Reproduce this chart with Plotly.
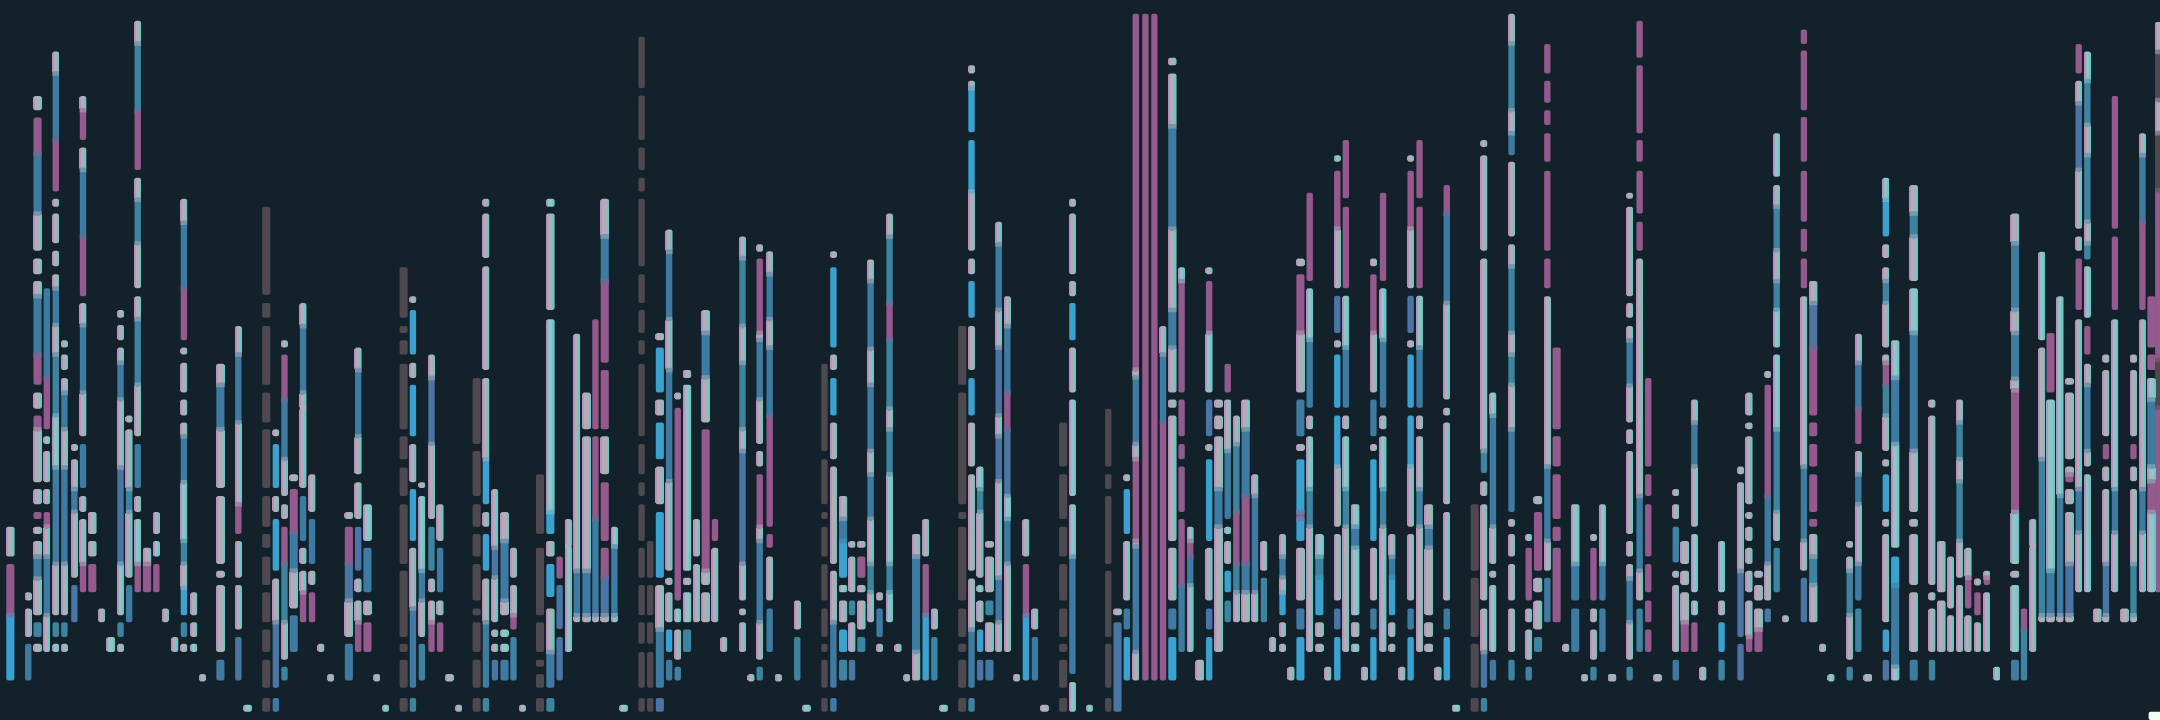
import re
import plotly.graph_objects as go

BACKGROUND = "#13222a"
COLORS = {
    "L": "#b0aeb6", "A": "#8cc6c6", "B": "#3e7ba2", "C": "#39a2d0",
    "P": "#4a75a4", "T": "#3d84a0", "M": "#945a8d", "D": "#4d494f", "W": "#f4fbfb",
}
EDGE_RIGHT = "#6cc6c4"
EDGE_LEFT = "#b990bf"
X_SCALE = 1568 / 540
NARROW = 18.5
WIDE = 23.5
PANEL_STARTS = [0, 540, 1080, 1620]

PANEL_1 = [
    (30, WIDE, "1147-1212L 1228-1340M 1340-1482C"),
    (82, NARROW, "1290-1308L 1325-1387L 1402-1482B"),
    (109, WIDE, "209-240L 256-335M 335-465B 465-546L 563-597L 612-645L 645-772B 772-838M 855-890L 905-935M 935-1050L 1065-1098L 1115-1130M 1147-1163L 1178-1212L 1212-1260B 1260-1340L 1355-1387T 1402-1420L"),
    (136, NARROW, "628-823B 823-935M 950-967A 982-1050L 1065-1098L 1115-1147M 1147-1212L 1212-1340B 1340-1420L"),
    (162, NARROW, "112-160L 160-305B 305-417M 433-450L 465-530L 546-580L 597-628L 628-708B 708-772L 772-905T 905-1018A 1018-1228B 1228-1340L 1355-1387T 1402-1420A"),
    (187, NARROW, "741-757L 772-806L 823-855L 855-935B 935-1018L 1018-1228B 1228-1340L 1355-1387T 1402-1420L"),
    (216, NARROW, "967-982L 1000-1065L 1065-1115B 1115-1258L 1274-1355P"),
    (241, NARROW, "209-240L 240-305M 321-370L 370-515B 515-645M 660-708L 708-855B 855-950L 967-1063B 1080-1115L 1130-1228L 1228-1290M"),
    (268, WIDE, "1115-1163L 1178-1212L 1228-1290M"),
    (295, NARROW, "1325-1355L"),
    (322, WIDE, "1387-1420A"),
    (350, NARROW, "675-692L 708-741L 757-790L 790-870B 870-1018L 1018-1228P 1228-1340A 1355-1387T 1402-1420L"),
    (375, NARROW, "905-920L 935-1065L 1065-1115T 1115-1258L 1274-1355B"),
    (400, NARROW, "45-95L 95-240T 240-370M 387-435L 435-530T 530-628L 645-695L 695-838T 838-950L 967-1063B 1080-1115L 1130-1228A 1228-1290M"),
    (427, WIDE, "1193-1228L 1228-1290M"),
    (454, NARROW, "1115-1163L 1178-1212A 1228-1290M"),
    (480, NARROW, "1325-1355L"),
    (508, NARROW, "1387-1420L"),
    (534, NARROW, "433-485L 485-628B 628-741M 757-772L 790-855L 870-905L 920-950L 950-1050B 1050-1178A 1178-1228T 1228-1280L 1280-1340C 1355-1387T 1402-1420L"),
    (563, NARROW, "1290-1340L 1355-1387L 1402-1420A"),
    (588, NARROW, "1468-1484L"),
    (640, WIDE, "792-838L 838-935B 935-1063L 1080-1228L 1243-1258L 1274-1420L 1437-1482B"),
    (692, NARROW, "710-772L 772-920B 920-1098L 1098-1163M 1178-1258L 1274-1371L 1387-1482P"),
    (719, WIDE, "1535-1550A"),
    (773, WIDE, "450-642D 660-692D 710-838D 855-920D 935-1063D 1080-1147D 1163-1193D 1212-1274D 1290-1355D 1371-1420D 1437-1498D 1520-1550D"),
    (801, NARROW, "935-950L 967-1063C 1080-1115L 1130-1243C 1260-1355L 1355-1498P 1520-1550B"),
    (826, NARROW, "741-757L 772-870M 870-1000B 1000-1080L 1098-1130L 1147-1228M 1228-1355T 1355-1437L 1452-1482T"),
    (853, WIDE, "1033-1048L 1065-1160M 1160-1243B 1243-1325L 1340-1420B"),
    (880, NARROW, "660-710L 710-855B 855-890L 890-1063L 1080-1178B 1193-1228L 1243-1290L 1290-1355M"),
    (906, NARROW, "1033-1115L 1130-1228B 1243-1274L 1290-1355M"),
    (932, NARROW, "1402-1420L"),
    (960, NARROW, "1468-1484L"),
    (1013, WIDE, "1115-1130L 1147-1228M 1228-1308P 1308-1387L 1402-1482B"),
    (1040, NARROW, "757-806L 806-950B 950-1033L 1050-1130L 1147-1243P 1260-1290L 1308-1355L 1355-1420M"),
    (1067, WIDE, "1098-1178A 1193-1290B 1308-1340L 1355-1420M"),
    (1094, NARROW, "1468-1484L"),
    (1120, NARROW, "1535-1550A"),
    (1172, WIDE, "582-692D 710-725D 741-772D 792-935D 950-1000D 1018-1080D 1098-1228D 1243-1387D 1402-1420D 1437-1498D 1520-1550D"),
    (1199, NARROW, "645-660L 675-772C 790-823L 838-950C 967-1050L 1065-1178C 1193-1325L 1325-1498B 1520-1550T"),
    (1225, NARROW, "1050-1063L 1080-1243A 1243-1308B 1308-1387L 1402-1482T"),
    (1253, NARROW, "772-823L 823-967P 967-1130L 1147-1243T 1260-1290L 1308-1355L 1355-1420M"),
    (1278, NARROW, "1098-1178L 1193-1290B 1308-1340L 1355-1420M"),
    (1305, WIDE, "1468-1484L"),
    (1332, NARROW, "1535-1550L"),
    (1384, WIDE, "823-967D 982-1080D 1098-1147D 1163-1212D 1228-1308D 1325-1340D 1355-1420D 1437-1498D 1520-1550D"),
    (1411, NARROW, "433-450L 465-562L 580-806L 823-1000L 1000-1098C 1115-1147L 1163-1243C 1260-1355L 1355-1498B 1520-1550T"),
    (1437, NARROW, "1065-1193L 1193-1258P 1258-1355L 1371-1387L 1402-1420L 1437-1482P"),
    (1465, WIDE, "1115-1178L 1178-1308B 1308-1340L 1371-1387A 1402-1420A 1437-1482B"),
    (1491, NARROW, "1193-1258L 1274-1340L 1340-1371M 1387-1482T"),
    (1517, NARROW, "1535-1550L"),
]

PANEL_2 = [
    (0, WIDE, "1033-1163D 1193-1340D 1355-1420D 1437-1452D 1468-1498D 1520-1550D"),
    (30, WIDE, "433-450A 465-675L 695-1115A 1115-1163C 1178-1212L 1228-1300C 1325-1420L 1420-1498B 1520-1550T"),
    (57, NARROW, "1212-1260M 1274-1370P 1387-1482P"),
    (82, NARROW, "1130-1190L 1190-1420A"),
    (107, NARROW, "727-1243L 1243-1340B 1340-1355L"),
    (135, WIDE, "855-935L 950-1243L 1243-1340B 1340-1355L"),
    (161, NARROW, "695-935M 950-1130M 1130-1340B 1340-1355L"),
    (188, WIDE, "433-515L 515-612B 612-790M 806-935M 950-1033L 1050-1178M 1193-1258M 1258-1340P 1340-1355L"),
    (216, NARROW, "1147-1190A 1190-1340B 1340-1355A"),
    (243, WIDE, "1535-1550A"),
    (295, NARROW, "80-192D 208-305D 321-370D 387-417D 433-580D 597-660D 675-725D 741-772D 792-950D 967-1033D 1050-1080D 1098-1178D 1193-1258D 1274-1340D 1355-1402D 1420-1498D 1520-1550D"),
    (320, NARROW, "1178-1258D 1274-1340D 1355-1402D 1420-1498D 1520-1550D"),
    (348, WIDE, "725-741L 757-855C 870-905L 920-1000C 1016-1098L 1115-1258C 1274-1371L 1371-1498B 1520-1550P"),
    (375, NARROW, "500-548L 548-695B 695-806L 806-1048B 1048-1243L 1258-1274L 1290-1355L 1371-1420C 1437-1482B"),
    (400, NARROW, "855-870L 888-1308M 1325-1355A 1371-1437L 1452-1482T"),
    (427, WIDE, "806-823L 838-1243A 1258-1274L 1290-1355A 1371-1420T"),
    (454, NARROW, "1130-1212L 1228-1355L"),
    (481, WIDE, "675-725L 725-822B 822-920L 935-1243M 1243-1274L 1290-1355L"),
    (508, NARROW, "1130-1178M 1193-1355L"),
    (534, NARROW, "1387-1420L"),
    (588, NARROW, "515-562L 562-710T 710-790L 790-935T 935-982L 982-1228P 1228-1308L 1325-1340L 1355-1420L"),
    (613, NARROW, "1468-1484L"),
    (638, NARROW, "532-548L 563-725M 725-740L 740-870B 870-967L 982-1016L 1033-1147M 1147-1178L 1178-1355B 1355-1437L 1452-1482T"),
    (667, NARROW, "547-597L 597-695B 695-757L 757-905B 905-1147M 1163-1193M 1212-1308L 1325-1420B"),
    (692, NARROW, "1468-1484L"),
    (747, NARROW, "1308-1371L 1387-1482T"),
    (774, WIDE, "1535-1550A"),
    (826, NARROW, "792-982D 1000-1098D 1115-1130D 1147-1212D 1228-1308D 1325-1387D 1402-1420D 1437-1498D 1520-1550D"),
    (852, NARROW, "547-562L 582-757C 772-806L 823-905C 920-1000L 1016-1228L 1243-1355L 1355-1498B 1520-1550B"),
    (880, WIDE, "1080-1130L 1130-1178B 1178-1258C 1274-1290A 1308-1355L 1371-1420C 1437-1482T"),
    (906, NARROW, "1178-1193L 1212-1290L 1308-1340T 1355-1420L 1437-1482P"),
    (933, WIDE, "1178-1193L 1212-1258M 1274-1290L 1308-1371L 1387-1420T"),
    (960, NARROW, "565-612L 612-760B 760-838L 838-982B 982-1033L 1033-1130B 1130-1228L 1228-1290T 1290-1355L"),
    (986, NARROW, "1290-1308L 1325-1387B 1402-1420L"),
    (1015, NARROW, "465-515L 515-660T 660-740M 740-890T 890-935L 935-1033T 1033-1228A 1228-1290T 1290-1355A"),
    (1040, NARROW, "1402-1420L"),
    (1065, NARROW, "1468-1484L"),
    (1092, WIDE, "1163-1212L 1212-1420B 1420-1482L"),
    (1120, NARROW, "1130-1212L 1228-1340M 1340-1482C"),
    (1145, NARROW, "1325-1371L 1387-1482T"),
    (1172, WIDE, "1535-1550A"),
    (1226, WIDE, "710-838D 855-1098D 1115-1130D 1147-1308D 1325-1387D 1402-1420D 1437-1498D 1520-1550D"),
    (1253, NARROW, "142-160L 176-192L 192-288C 305-417C 417-546L 563-597L 612-692C 710-806L 823-905C 920-1016L 1033-1243L 1260-1371L 1371-1498B 1520-1550T"),
    (1278, NARROW, "1016-1065A 1065-1115T 1115-1258L 1274-1290A 1308-1355L 1371-1420C 1437-1482P"),
    (1305, WIDE, "1178-1193L 1212-1290L 1308-1340T 1355-1420L 1437-1482B"),
    (1332, NARROW, "483-532L 532-675B 675-757L 757-905P 905-950L 950-1048P 1048-1258L 1258-1355B 1355-1420L"),
    (1357, NARROW, "645-710L 710-855B 855-935M 935-1080P 1080-1130A 1130-1228B 1228-1420L"),
    (1384, NARROW, "1468-1484L"),
    (1411, NARROW, "1130-1212L 1228-1340M 1340-1482C"),
    (1437, NARROW, "1325-1371L 1387-1482B"),
    (1465, WIDE, "1535-1550L"),
    (1519, WIDE, "920-1016D 1033-1130D 1147-1212D 1228-1308D 1325-1387D 1402-1420D 1437-1498D 1520-1550D"),
    (1546, NARROW, "433-450L 465-597L 612-645L 660-741C 757-855L 870-1080A 1098-1212A 1212-1468B 1485-1550A"),
]

PANEL_3 = [
    (28, NARROW, "1535-1550A"),
    (82, NARROW, "890-1016D 1033-1065D 1080-1228D 1243-1387D 1402-1498D 1520-1550D"),
    (109, WIDE, "1325-1340L 1355-1550P"),
    (136, NARROW, "1033-1048L 1065-1163C 1178-1308L 1325-1371B 1387-1482C"),
    (162, NARROW, "30-805M 805-822L 822-967B 967-1000L 1000-1178M 1178-1190L 1190-1420B 1420-1482L"),
    (190, NARROW, "30-1482M"),
    (216, NARROW, "30-1482M"),
    (241, NARROW, "710-772L 772-920B 920-1482M"),
    (268, WIDE, "126-142L 160-275L 275-498B 498-675L 675-757B 757-855L 870-888L 905-1178L 1193-1308L 1325-1371B 1387-1482C"),
    (295, NARROW, "582-612A 612-855M 870-950M 967-1000M 1016-1115M 1130-1275M 1275-1420B"),
    (320, NARROW, "1147-1178A 1178-1212M 1212-1275B 1275-1420A"),
    (348, WIDE, "1437-1482L"),
    (375, NARROW, "582-597L 612-725M 725-855A 870-950P 967-982L 1000-1178C 1193-1308L 1325-1371P 1387-1482C"),
    (402, WIDE, "870-888L 905-935L 950-1065L 1065-1147B 1147-1420L"),
    (429, NARROW, "792-855M 870-982L 982-1130B 1147-1163A 1178-1228L 1243-1290C 1308-1355T"),
    (454, NARROW, "905-967L 967-1115T 1115-1228M 1228-1290T 1290-1355L"),
    (481, WIDE, "870-935L 935-1080B 1080-1228M 1228-1290B 1290-1355L"),
    (508, NARROW, "1033-1080L 1080-1290B 1290-1355L"),
    (534, NARROW, "1178-1243L 1258-1355T"),
    (559, NARROW, "1387-1420L"),
    (588, NARROW, "1163-1212L 1212-1258B 1258-1290L 1290-1340C 1355-1387L 1402-1420L"),
    (613, NARROW, "1452-1482L"),
    (640, WIDE, "563-580L 597-725M 725-855L 870-950B 967-982L 1000-1115C 1115-1130M 1130-1178C 1193-1308L 1325-1371B 1387-1482C"),
    (667, NARROW, "420-612M 628-740A 740-888B 905-935L 950-1065A 1065-1147T 1147-1420L"),
    (695, WIDE, "1163-1212A 1212-1258T 1258-1340C 1355-1387L 1402-1420L"),
    (720, NARROW, "1452-1482L"),
    (747, NARROW, "338-352A 372-498M 498-628L 644-725P 741-757L 772-888C 905-1016C 1016-1147L 1163-1308L 1325-1371P 1387-1482C"),
    (772, NARROW, "305-432M 450-628M 644-757A 757-888B 905-935L 950-1065A 1065-1147T 1147-1420L"),
    (799, WIDE, "1098-1147A 1147-1193B 1193-1340A 1355-1387L 1402-1420A"),
    (826, NARROW, "1452-1482L"),
    (852, NARROW, "563-580L 597-725M 725-855L 870-950B 967-982L 1000-1178C 1193-1308L 1325-1371B 1387-1482C"),
    (880, NARROW, "420-612M 628-740A 740-888B 905-935L 950-1065A 1065-1147T 1147-1420L"),
    (906, NARROW, "1163-1212L 1212-1258B 1258-1340C 1355-1387L 1402-1420L"),
    (935, NARROW, "1452-1482L"),
    (960, NARROW, "338-352L 372-498M 498-628L 644-725P 741-757L 772-888C 905-1016C 1016-1147L 1163-1308L 1325-1371B 1387-1482C"),
    (986, NARROW, "305-432M 450-628M 644-757A 757-888B 905-935L 950-1065L 1065-1147T 1147-1420L"),
    (1013, WIDE, "1098-1147L 1147-1193B 1193-1340L 1355-1387L 1402-1420L"),
    (1040, NARROW, "1452-1482L"),
    (1065, NARROW, "403-465M 465-660B 660-870L 888-905L 920-1098L 1115-1308L 1325-1371B 1387-1482C"),
    (1092, WIDE, "1535-1550A"),
    (1146, WIDE, "1098-1243D 1258-1387D 1402-1498D 1520-1550D"),
    (1173, NARROW, "305-320L 338-546L 563-982L 982-1030T 1048-1080L 1098-1308L 1325-1420L 1420-1498P 1520-1550T"),
    (1199, NARROW, "855-905A 905-1147B 1147-1228L 1243-1258L 1274-1420A 1437-1482B"),
    (1253, NARROW, "30-95L 95-240T 240-290L 290-338B 352-515L 532-580L 580-725T 725-772L 772-838T 838-935L 935-1115B 1130-1147L 1163-1212L 1228-1308L 1325-1420L 1437-1482T"),
    (1303, NARROW, "1163-1178A 1193-1308M 1325-1355L 1371-1437L 1452-1482T"),
    (1330, WIDE, "1080-1098L 1115-1243M 1258-1290L 1308-1371L 1387-1420T"),
    (1357, NARROW, "96-160M 176-224M 240-272M 290-352M 372-546M 563-628M 645-1016L 1016-1178B 1178-1243L 1258-1355B"),
    (1384, WIDE, "757-935M 950-1016M 1033-1130M 1147-1178M 1193-1355M"),
    (1411, NARROW, "1402-1420L"),
    (1438, WIDE, "1098-1228A 1228-1308B 1325-1420B"),
    (1465, NARROW, "1468-1484L"),
    (1491, NARROW, "1163-1178L 1193-1308M 1325-1355L 1371-1437L 1452-1482T"),
    (1517, NARROW, "1098-1228A 1228-1308B 1325-1420B"),
    (1545, WIDE, "1468-1484L"),
]

PANEL_4 = [
    (28, NARROW, "420-433L 450-645L 660-692L 710-741L 741-840B 840-920L 935-967L 982-1163L 1178-1212L 1228-1260L 1260-1355B 1355-1437L 1452-1482T"),
    (57, NARROW, "45-126M 142-290M 305-352M 372-465M 483-546M 563-1080L 1080-1243B 1243-1308L 1325-1420T"),
    (82, NARROW, "823-1016M 1033-1080M 1098-1212M 1228-1290M 1308-1355M 1371-1420M"),
    (109, WIDE, "1468-1484L"),
    (162, NARROW, "1065-1080L 1098-1130L 1147-1225T 1243-1258L 1274-1420L 1437-1482B"),
    (188, WIDE, "1178-1228L 1243-1274L 1290-1355L 1355-1420M"),
    (216, NARROW, "870-920L 920-1016B 1016-1147L 1163-1290A 1308-1340A 1355-1420M"),
    (241, NARROW, "1452-1482L"),
    (295, NARROW, "1178-1290A 1308-1340L 1355-1420C 1437-1482T"),
    (350, NARROW, "1016-1033L 1050-1243L 1243-1387P 1402-1482P"),
    (375, NARROW, "855-905L 920-935L 950-1098L 1115-1130L 1147-1178L 1193-1228L 1243-1290L 1308-1387L 1387-1420M"),
    (402, WIDE, "1243-1258L 1274-1308L 1325-1371L 1371-1420M"),
    (429, NARROW, "808-823L 838-1080M 1080-1228B 1228-1308L 1325-1355P"),
    (455, NARROW, "290-385A 403-450L 450-545T 545-612L 612-675T 675-757A 772-935A 935-1115T 1115-1178L 1193-1290T"),
    (480, NARROW, "1340-1355L"),
    (534, NARROW, "64-96M 110-240M 255-352M 372-483M 498-548M 563-628M 645-1016L 1016-1178B 1178-1243L 1258-1355P"),
    (561, WIDE, "612-660L 660-757P 757-905M 920-950M 967-1016M 1033-1115M 1130-1147M 1163-1212L 1212-1274T 1274-1355L"),
    (588, NARROW, "1402-1420L"),
    (613, NARROW, "1468-1484A"),
    (667, NARROW, "1178-1193L 1212-1243L 1243-1340T 1340-1437L 1452-1482T"),
    (692, NARROW, "727-790L 790-890B 890-967M 982-1033L 1033-1098B 1098-1228L 1228-1308B 1325-1420T"),
    (720, WIDE, "1468-1484L"),
    (772, NARROW, "387-435A 435-515C 532-562L 582-612L 612-660T 660-757L 772-790L 790-840M 840-905T 905-982L 1000-1016L 1033-1115C 1130-1147L 1163-1355L 1371-1420C 1437-1482P"),
    (799, WIDE, "741-823A 823-967B 967-1193A 1212-1275C 1275-1452B 1452-1482A"),
    (853, WIDE, "403-465L 465-515T 515-612L 628-725A 725-982B 982-1115L 1130-1147L 1163-1274L 1290-1420L 1437-1482B"),
    (906, NARROW, "870-888L 905-1274L 1290-1308L 1325-1420L 1437-1482T"),
    (933, WIDE, "1178-1290L 1308-1420L"),
    (960, NARROW, "1212-1325L 1340-1420L"),
    (986, NARROW, "870-920L 920-1000T 1000-1048L 1048-1178T 1178-1258L 1274-1420L"),
    (1011, NARROW, "1193-1258L 1258-1325M 1340-1420L"),
    (1038, NARROW, "1260-1275L 1290-1340M 1355-1420L"),
    (1065, NARROW, "1243-1258L 1258-1274M 1290-1420L"),
    (1094, NARROW, "1452-1482A"),
    (1147, WIDE, "465-530L 530-675B 675-725L 725-825B 825-850L 850-1115M 1115-1228A 1243-1258L 1274-1420A 1437-1482B"),
    (1173, NARROW, "1325-1371M 1371-1482T"),
    (1199, NARROW, "1130-1190L 1190-1420L"),
    (1225, NARROW, "548-741A 757-1000L 1000-1340T 1340-1355L"),
    (1250, WIDE, "725-855M 870-1243A 1243-1340B 1340-1355L"),
    (1278, NARROW, "645-1080A 1080-1340B 1340-1355L"),
    (1305, WIDE, "823-838L 855-1000L 1016-1033L 1033-1050M 1065-1098L 1115-1228L 1228-1340P 1340-1355L"),
    (1332, NARROW, "96-160M 176-225L 225-370P 370-498L 515-546L 563-675M 695-1065L 1065-1160B 1160-1290L"),
    (1357, NARROW, "112-176A 176-272T 272-338L 338-483T 483-530L 530-565T 580-692A 710-772M 792-838L 838-982B 982-1016L 1033-1290A"),
    (1386, WIDE, "1325-1355L"),
    (1411, NARROW, "772-790L 806-950L 967-1000M 1016-1048L 1065-1228L 1228-1340P 1340-1355L"),
    (1437, NARROW, "209-498M 515-675M 695-1065A 1065-1160B 1160-1290L"),
    (1465, WIDE, "1325-1355L"),
    (1491, NARROW, "772-790L 806-950L 967-1000M 1016-1048L 1065-1228L 1228-1340T 1340-1355L"),
    (1517, NARROW, "290-338L 338-483B 483-675M 695-1065L 1065-1160B 1160-1290L"),
    (1543, WIDE, "645-757M 772-806M 823-870A 870-1016B 1016-1048A 1048-1115M 1115-1290A"),
    (1563, NARROW, "48-113L 113-218D 218-290L 290-414D 414-784M 784-888D 888-1290M"),
    (1555, 40, "1550-1568W"),
]

PANELS = [PANEL_1, PANEL_2, PANEL_3, PANEL_4]
TOKEN = re.compile(r"(\d+)-(\d+)([A-Z])")


def mix(first, second):
    a = [int(first[i:i + 2], 16) for i in (1, 3, 5)]
    b = [int(second[i:i + 2], 16) for i in (1, 3, 5)]
    return "#" + "".join(f"{(p + q) // 2:02x}" for p, q in zip(a, b))


notes = {k: [] for k in ("x", "base", "height", "width", "color")}
details = {k: [] for k in ("x", "base", "height", "width", "color")}


def add(store, x, base, height, width, color):
    for key, value in zip(("x", "base", "height", "width", "color"), (x, base, height, width, color)):
        store[key].append(value)


for start, panel in zip(PANEL_STARTS, PANELS):
    for zoomed_x, zoomed_width, text in panel:
        runs = [(int(a), int(b), c) for a, b, c in TOKEN.findall(text)]
        centre = start + zoomed_x / X_SCALE
        full = zoomed_width / X_SCALE
        for i, (top, bottom, colour) in enumerate(runs):
            joined_below = i + 1 < len(runs) and runs[i + 1][0] == bottom
            add(notes, centre, top, bottom - top + (8 if joined_below else 0), full, COLORS[colour])
            if colour in "LA" and bottom - top > 12:
                add(details, centre + full / 2 - 0.7, top + 3, bottom - top - 6, 1.4, EDGE_RIGHT)
                add(details, centre - full / 2 + 0.5, top + 3, bottom - top - 6, 1.0, EDGE_LEFT)
            if joined_below:
                add(details, centre, bottom - 5, 10, full, mix(COLORS[colour], COLORS[runs[i + 1][2]]))

fig = go.Figure()
fig.add_bar(
    x=notes["x"], y=notes["height"], base=notes["base"], width=notes["width"],
    marker=dict(color=notes["color"], line=dict(width=0), cornerradius=2), hoverinfo="skip",
)
fig.add_bar(
    x=details["x"], y=details["height"], base=details["base"], width=details["width"],
    marker=dict(color=details["color"], line=dict(width=0)), hoverinfo="skip",
)
fig.update_layout(
    width=2160, height=720, margin=dict(l=0, r=0, t=0, b=0),
    paper_bgcolor=BACKGROUND, plot_bgcolor=BACKGROUND,
    barmode="overlay", showlegend=False,
    xaxis=dict(range=[0, 2160], visible=False, fixedrange=True),
    yaxis=dict(range=[1568, 0], visible=False, fixedrange=True),
)
fig.write_html(
    "out.html",
    config={"displayModeBar": False},
    post_script="document.body.style.margin='0';document.body.style.background='#13222a';document.body.style.overflow='hidden';",
)
